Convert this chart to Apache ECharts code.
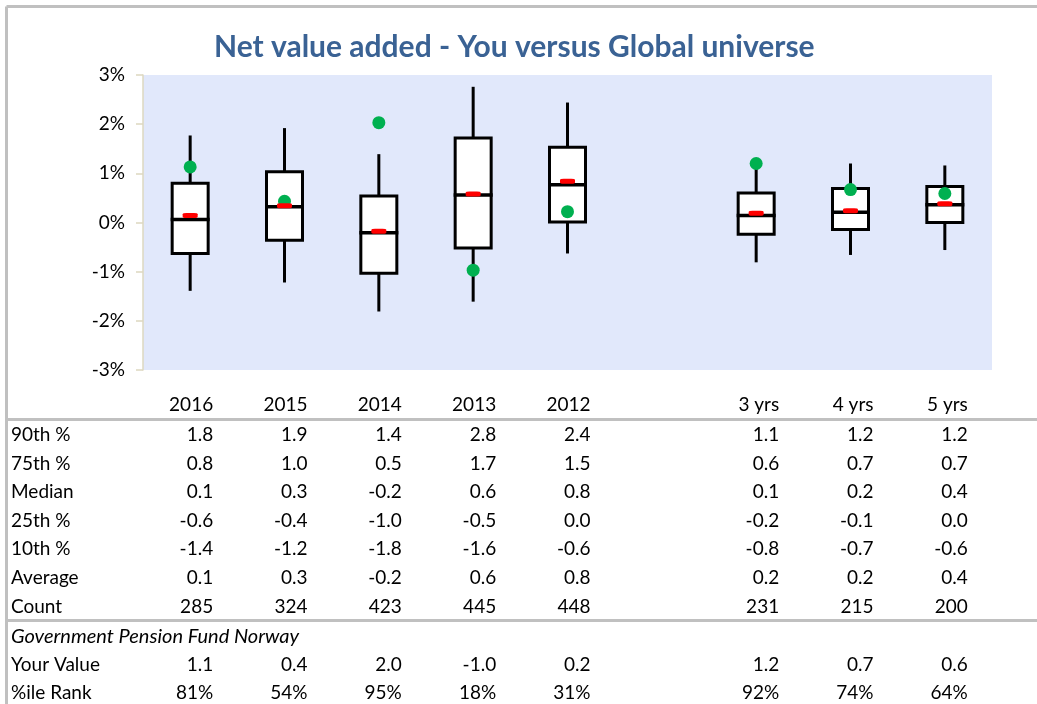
<!DOCTYPE html>
<html>
<head>
<meta charset="utf-8">
<script src="https://cdn.jsdelivr.net/npm/echarts@6/dist/echarts.min.js"></script>
<style>
  html, body { margin: 0; padding: 0; background: #fff; }
  #chart { width: 1037px; height: 704px; }
</style>
</head>
<body>
<div id="chart"></div>
<script>
// categories (empty slot separates single years from the multi-year periods)
const categories = ['2016', '2015', '2014', '2013', '2012', '', '3 yrs', '4 yrs', '5 yrs']

// universe distribution, in %
const p90 = [1.77, 1.92, 1.39, 2.76, 2.44, null, 1.10, 1.20, 1.16]
const p75 = [0.80, 1.03, 0.54, 1.72, 1.53, null, 0.60, 0.69, 0.73]
const median = [0.06, 0.32, -0.21, 0.56, 0.77, null, 0.14, 0.21, 0.36]
const p25 = [-0.63, -0.36, -1.03, -0.52, 0.01, null, -0.24, -0.14, 0.00]
const p10 = [-1.39, -1.22, -1.81, -1.61, -0.63, null, -0.81, -0.66, -0.56]
const average = [0.14, 0.34, -0.18, 0.58, 0.84, null, 0.19, 0.24, 0.38]
const count = [285, 324, 423, 445, 448, null, 231, 215, 200]

// fund
const fundName = 'Government Pension Fund Norway'
const yourValue = [1.13, 0.43, 2.03, -0.97, 0.22, null, 1.20, 0.67, 0.59]
const pctRank = [81, 54, 95, 18, 31, null, 92, 74, 64]

const yTicks = [-3, -2, -1, 0, 1, 2, 3]

const FONT = 'Lato, "Open Sans", sans-serif'
const GRID_BOTTOM_Y = 370

function fmt1(v) {
  if (v === null || v === undefined) return ''
  const s = v.toFixed(1)
  return s === '-0.0' ? '0.0' : s
}

// table rows drawn as extra category axes on the same grid
const tableRows = [
  { label: '', center: 405, values: categories },
  { label: '90th %', center: 435, values: p90.map(fmt1) },
  { label: '75th %', center: 463.5, values: p75.map(fmt1) },
  { label: 'Median', center: 492, values: median.map(fmt1) },
  { label: '25th %', center: 520.5, values: p25.map(fmt1) },
  { label: '10th %', center: 549, values: p10.map(fmt1) },
  { label: 'Average', center: 578, values: average.map(fmt1) },
  { label: 'Count', center: 607, values: count.map(v => v === null ? '' : String(v)) },
  { label: fundName, center: 636.5, values: null, italic: true },
  { label: 'Your Value', center: 664.5, values: yourValue.map(fmt1) },
  { label: '%ile Rank', center: 693, values: pctRank.map(v => v === null ? '' : v + '%') },
]

const xAxes = []
tableRows.forEach((row) => {
  if (!row.values) return
  xAxes.push({
    type: 'category',
    data: row.values,
    gridIndex: 0,
    position: 'bottom',
    offset: 0,
    axisLine: { show: false },
    axisTick: { show: false },
    splitLine: { show: false },
    axisLabel: {
      interval: 0,
      margin: row.center - GRID_BOTTOM_Y,
      verticalAlign: 'middle',
      formatter: v => '{v|' + v + '}',
      rich: {
        v: { width: 46, align: 'right', fontSize: 19, fontFamily: FONT, color: '#000' },
      },
    },
  })
})

const boxData = categories.map((c, i) => p10[i] === null ? [i, null, null, null, null] : [i, p10[i], p25[i], p75[i], p90[i]])

const chartDom = document.getElementById('chart')
const myChart = echarts.init(chartDom, null, { renderer: 'canvas' })

const graphics = [
  // outer frame
  { type: 'line', shape: { x1: 6.5, y1: 6.5, x2: 1037, y2: 6.5 }, style: { stroke: '#C0C0C0', lineWidth: 3 } },
  { type: 'line', shape: { x1: 6.5, y1: 6.5, x2: 6.5, y2: 704 }, style: { stroke: '#C0C0C0', lineWidth: 3 } },
  // table separators
  { type: 'line', shape: { x1: 6.5, y1: 419.5, x2: 1037, y2: 419.5 }, style: { stroke: '#C0C0C0', lineWidth: 3 } },
  { type: 'line', shape: { x1: 6.5, y1: 620.5, x2: 1037, y2: 620.5 }, style: { stroke: '#C0C0C0', lineWidth: 3 } },
]
tableRows.forEach((row) => {
  if (!row.label) return
  graphics.push({
    type: 'text',
    style: {
      x: 11,
      y: row.center,
      text: row.label,
      fontSize: row.italic ? 20 : 19,
      fontFamily: FONT,
      fontStyle: row.italic ? 'italic' : 'normal',
      verticalAlign: 'middle',
      fill: '#000',
    },
  })
})

const option = {
  animation: false,
  backgroundColor: '#fff',
  title: {
    text: 'Net value added - You versus Global universe',
    left: 209,
    top: 27,
    textStyle: { color: '#3A6294', fontSize: 30, fontWeight: 'bold', fontFamily: FONT },
  },
  grid: {
    left: 143,
    right: 45,
    top: 75,
    bottom: 704 - GRID_BOTTOM_Y,
    show: true,
    backgroundColor: '#E1E8FB',
    borderWidth: 0,
  },
  xAxis: xAxes,
  yAxis: {
    type: 'value',
    min: yTicks[0],
    max: yTicks[yTicks.length - 1],
    interval: 1,
    axisLine: { show: true, lineStyle: { color: '#DDD8C0', width: 1.5 } },
    axisTick: { show: true, length: 7, lineStyle: { color: '#DDD8C0', width: 1.5 } },
    splitLine: { show: false },
    axisLabel: {
      margin: 18,
      fontSize: 19,
      fontFamily: FONT,
      color: '#000',
      formatter: '{value}%',
    },
  },
  series: [
    {
      name: 'Range',
      type: 'custom',
      xAxisIndex: 0,
      data: boxData,
      encode: { x: 0, y: [1, 2, 3, 4] },
      renderItem(params, api) {
        if (api.value(1) === null || isNaN(api.value(1))) return
        const idx = api.value(0)
        const lo = api.coord([idx, api.value(1)])
        const q1 = api.coord([idx, api.value(2)])
        const q3 = api.coord([idx, api.value(3)])
        const hi = api.coord([idx, api.value(4)])
        const w = 36
        return {
          type: 'group',
          children: [
            { type: 'line', shape: { x1: lo[0], y1: lo[1], x2: hi[0], y2: hi[1] }, style: { stroke: '#000', lineWidth: 3 } },
            { type: 'rect', shape: { x: q3[0] - w / 2, y: q3[1], width: w, height: q1[1] - q3[1] }, style: { fill: '#fff', stroke: '#000', lineWidth: 3 } },
          ],
        }
      },
      z: 2,
    },
    {
      name: 'Your Value',
      type: 'scatter',
      data: yourValue,
      symbol: 'circle',
      symbolSize: 13,
      itemStyle: { color: '#00B050', opacity: 1 },
      z: 3,
    },
    {
      name: 'Median',
      type: 'scatter',
      data: median,
      symbol: 'rect',
      symbolSize: [39, 3.5],
      itemStyle: { color: '#000', opacity: 1 },
      z: 4,
    },
    {
      name: 'Average',
      type: 'scatter',
      data: average,
      symbol: 'roundRect',
      symbolSize: [15, 5],
      itemStyle: { color: '#FF0000', opacity: 1 },
      z: 5,
    },
  ],
  graphic: graphics,
}

myChart.setOption(option)
</script>
</body>
</html>
